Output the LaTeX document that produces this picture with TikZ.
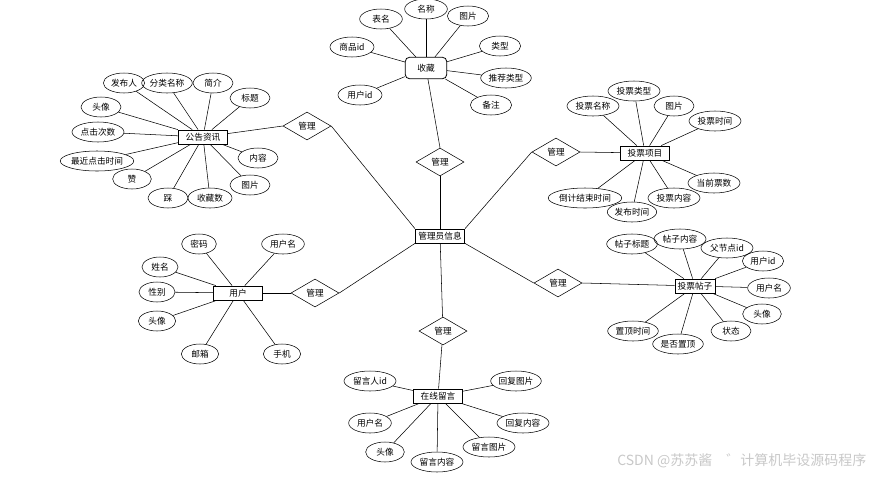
\documentclass[tikz,border=0pt]{standalone}
\usepackage{fontspec}
\setmainfont{Noto Sans CJK SC}
\usepackage{tikz}
\usetikzlibrary{shapes.geometric}
\definecolor{mark}{HTML}{C8C8C8}

\begin{document}
\begin{tikzpicture}[
    x=0.75pt, y=-0.75pt,
    every node/.style={font=\fontsize{6.5}{7}\selectfont},
    ent/.style={draw, semithick, minimum width=37pt, minimum height=10.5pt, inner sep=1pt},
    attr/.style={draw, ellipse, inner sep=0pt, minimum height=15pt, minimum width=#1},
    attr/.default=30pt,
    rel/.style={draw, diamond, inner sep=0pt, minimum width=36pt, minimum height=21pt},
    link/.style={thin}
]
\useasboundingbox (0,0) rectangle (876,476);

% Admin
\node[ent] (admin) at (440,236) {管理员信息};

% Notice
\node[ent] (notice) at (203,137) {公告资讯};
\node[rel] (rnotice) at (307,126) {管理};
\node[attr=31pt] (nf1) at (124,83) {发布人};
\node[attr=38pt] (nf2) at (167,83) {分类名称};
\node[attr] (nf3) at (213,83) {简介};
\node[attr] (nf4) at (250,98) {标题};
\node[attr] (nf5) at (101,107) {头像};
\node[attr=39pt] (nf6) at (98,132) {点击次数};
\node[attr=51pt] (nf7) at (97,161) {最近点击时间};
\node[attr=29pt] (nf8) at (132,179) {赞};
\node[attr=30pt] (nf9) at (168,198) {踩};
\node[attr=33pt] (nf10) at (210,198) {收藏数};
\node[attr] (nf11) at (250,185) {图片};
\node[attr] (nf12) at (258,158) {内容};
\draw[link] (notice) -- (nf1);
\draw[link] (notice) -- (nf2);
\draw[link] (notice) -- (nf3);
\draw[link] (notice) -- (nf4);
\draw[link] (notice) -- (nf5);
\draw[link] (notice) -- (nf6);
\draw[link] (notice) -- (nf7);
\draw[link] (notice) -- (nf8);
\draw[link] (notice) -- (nf9);
\draw[link] (notice) -- (nf10);
\draw[link] (notice) -- (nf11);
\draw[link] (notice) -- (nf12);
\draw[link] (notice) -- (rnotice.west);
\draw[link] (rnotice.east) -- (admin.north west);

% Favourite
\node[ent, rounded corners=3pt, minimum width=31pt, minimum height=16pt] (fav) at (426,68) {收藏};
\node[rel] (rfav) at (440,162) {管理};
\node[attr=32pt] (ff1) at (381,19) {表名};
\node[attr=32pt] (ff2) at (426,9) {名称};
\node[attr=31pt] (ff3) at (468,16) {图片};
\node[attr=33pt] (ff4) at (352,47) {商品id};
\node[attr=31pt] (ff5) at (500,46) {类型};
\node[attr=38pt] (ff6) at (506,78) {推荐类型};
\node[attr=31pt] (ff7) at (491,105) {备注};
\node[attr=33pt] (ff8) at (360,95) {用户id};
\draw[link] (fav) -- (ff1);
\draw[link] (fav) -- (ff2);
\draw[link] (fav) -- (ff3);
\draw[link] (fav) -- (ff4);
\draw[link] (fav) -- (ff5);
\draw[link] (fav) -- (ff6);
\draw[link] (fav) -- (ff7);
\draw[link] (fav) -- (ff8);
\draw[link] (fav) -- (rfav.north);
\draw[link] (rfav) -- (admin);

% Vote item
\node[ent] (item) at (645,153) {投票项目};
\node[rel] (ritem) at (556,152) {管理};
\node[attr=39pt] (if1) at (593,106) {投票名称};
\node[attr=39pt] (if2) at (634,91) {投票类型};
\node[attr] (if3) at (674,106) {图片};
\node[attr=39pt] (if4) at (715,121) {投票时间};
\node[attr=39pt] (if5) at (714,183) {当前票数};
\node[attr=39pt] (if6) at (674,198) {投票内容};
\node[attr=37pt] (if7) at (632,212) {发布时间};
\node[attr=45pt] (if8) at (585,198) {倒计结束时间};
\draw[link] (item) -- (if1);
\draw[link] (item) -- (if2);
\draw[link] (item) -- (if3);
\draw[link] (item) -- (if4);
\draw[link] (item) -- (if5);
\draw[link] (item) -- (if6);
\draw[link] (item) -- (if7);
\draw[link] (item) -- (if8);
\draw[link] (ritem.east) -- (item);
\draw[link] (admin.north east) -- (ritem.west);

% Vote post
\node[ent, minimum width=30pt] (post) at (695,286) {投票帖子};
\node[rel] (rpost) at (558,283) {管理};
\node[attr=38pt] (pf1) at (632,244) {帖子标题};
\node[attr=39pt] (pf2) at (680,239) {帖子内容};
\node[attr=39pt] (pf3) at (727,248) {父节点id};
\node[attr=31pt] (pf4) at (763,261) {用户id};
\node[attr=32pt] (pf5) at (769,288) {用户名};
\node[attr=29pt] (pf6) at (762,314) {头像};
\node[attr=30pt] (pf7) at (731,331) {状态};
\node[attr=38pt] (pf8) at (678,344) {是否置顶};
\node[attr=38pt] (pf9) at (633,331) {置顶时间};
\draw[link] (post) -- (pf1);
\draw[link] (post) -- (pf2);
\draw[link] (post) -- (pf3);
\draw[link] (post) -- (pf4);
\draw[link] (post) -- (pf5);
\draw[link] (post) -- (pf6);
\draw[link] (post) -- (pf7);
\draw[link] (post) -- (pf8);
\draw[link] (post) -- (pf9);
\draw[link] (rpost.east) -- (post);
\draw[link] (admin.south east) -- (rpost.west);

% User
\node[ent] (user) at (238,293) {用户};
\node[rel] (ruser) at (315,293) {管理};
\node[attr=26pt] (uf1) at (199,244) {密码};
\node[attr=32pt] (uf2) at (283,244) {用户名};
\node[attr=27pt] (uf3) at (160,267) {姓名};
\node[attr=27pt] (uf4) at (157,292) {性别};
\node[attr=28pt] (uf5) at (157,321) {头像};
\node[attr=28pt] (uf6) at (200,354) {邮箱};
\node[attr=28pt] (uf7) at (282,354) {手机};
\draw[link] (user) -- (uf1);
\draw[link] (user) -- (uf2);
\draw[link] (user) -- (uf3);
\draw[link] (user) -- (uf4);
\draw[link] (user) -- (uf5);
\draw[link] (user) -- (uf6);
\draw[link] (user) -- (uf7);
\draw[link] (user) -- (ruser.west);
\draw[link] (ruser.east) -- (admin.south west);

% Messages
\node[ent] (msg) at (438,396) {在线留言};
\node[rel] (rmsg) at (443,331) {管理};
\node[attr=39pt] (mf1) at (370,381) {留言人id};
\node[attr=32pt] (mf2) at (370,423) {用户名};
\node[attr=29pt] (mf3) at (385,452) {头像};
\node[attr=39pt] (mf4) at (437,462) {留言内容};
\node[attr=39pt] (mf5) at (489,447) {留言图片};
\node[attr=39pt] (mf6) at (523,423) {回复内容};
\node[attr=38pt] (mf7) at (516,381) {回复图片};
\draw[link] (msg) -- (mf1);
\draw[link] (msg) -- (mf2);
\draw[link] (msg) -- (mf3);
\draw[link] (msg) -- (mf4);
\draw[link] (msg) -- (mf5);
\draw[link] (msg) -- (mf6);
\draw[link] (msg) -- (mf7);
\draw[link] (admin) -- (rmsg);
\draw[link] (rmsg) -- (msg);

% Watermark
\node[anchor=east, text=mark, font=\fontsize{10.5}{12}\selectfont] (wm) at (871,461) {CSDN @苏苏酱\quad ゛计算机毕设源码程序};

\end{tikzpicture}
\end{document}
